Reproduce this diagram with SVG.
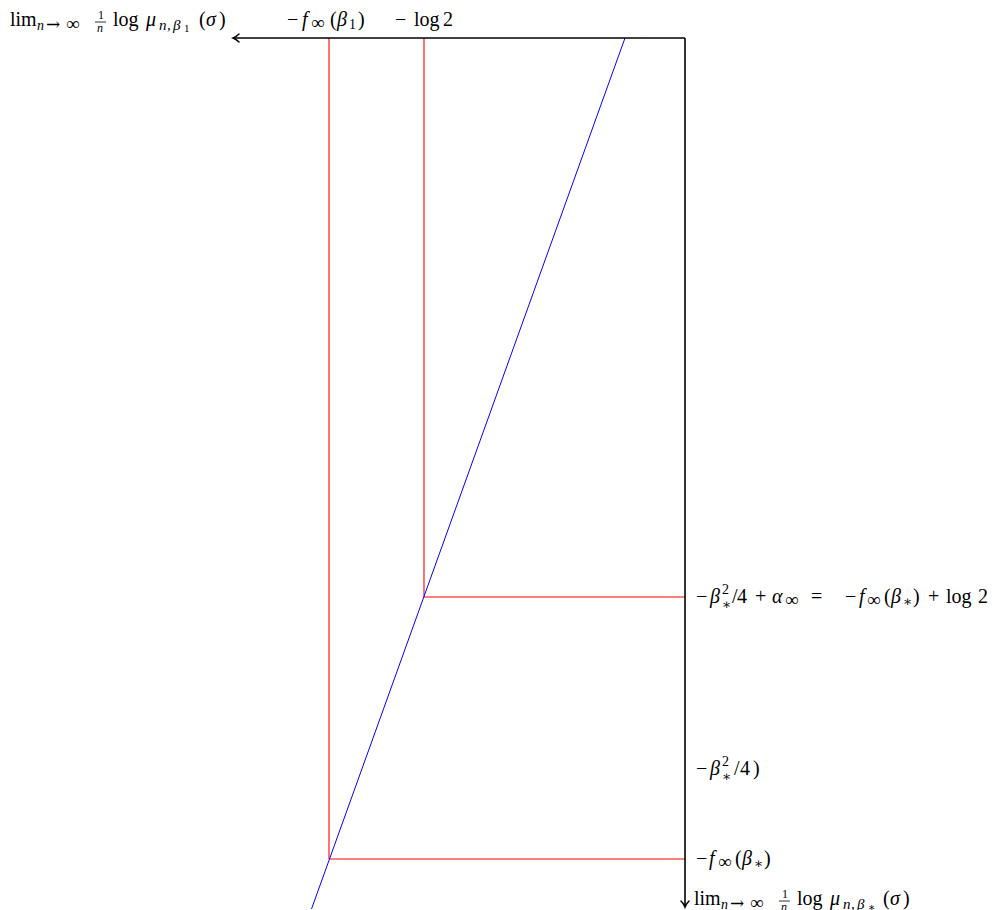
<svg xmlns="http://www.w3.org/2000/svg" width="999" height="910" viewBox="0 0 999 910">
<defs>
<style>
.ax{stroke:#000;stroke-width:1.6;fill:none}
.red{stroke:#f00;stroke-width:1.1;fill:none}
.blue{stroke:#00f;stroke-width:1;fill:none}
.fb{stroke:#000;stroke-width:0.8}
text{font-family:"Liberation Serif","DejaVu Serif",serif;font-size:20px;fill:#000}
.i{font-style:italic}
.s{font-size:14px}
.sb{font-size:15px}
.inf{font-size:19px}
.ar{font-family:"DejaVu Serif","Liberation Serif",serif;font-size:17px}
.ss{font-size:11px}
.f{font-size:12px}
</style>
<marker id="arr" viewBox="0 0 10 10" refX="8" refY="5" markerWidth="10" markerHeight="10" markerUnits="userSpaceOnUse" orient="auto">
<path d="M2,1 Q5,4 8,5 Q5,6 2,9" fill="none" stroke="#000" stroke-width="1.5" stroke-linecap="round"/>
</marker>
</defs>
<rect width="999" height="910" fill="#fff"/>
<g id="connectors">
<line class="red" x1="329" y1="38" x2="329" y2="859"/>
<line class="red" x1="329" y1="859" x2="685" y2="859"/>
<line class="red" x1="424" y1="38" x2="424" y2="597"/>
<line class="red" x1="424" y1="597" x2="685" y2="597"/>
<line class="blue" x1="625" y1="38" x2="311.5" y2="909"/>
<line class="ax" x1="685" y1="38" x2="233" y2="38" marker-end="url(#arr)"/>
<line class="ax" x1="685" y1="38" x2="685" y2="907" marker-end="url(#arr)"/>
</g>
<g id="label-xaxis">
<text y="26"><tspan x="10">lim</tspan><tspan class="s i" x="37" y="30">n</tspan><tspan class="ar" x="46" y="30">→</tspan><tspan class="inf" x="66" y="30">∞</tspan><tspan class="f" x="98" y="19">1</tspan><tspan class="f i" x="97" y="32">n</tspan><tspan x="113" y="26">log</tspan><tspan class="i" x="146">μ</tspan><tspan class="sb i" x="159" y="30">n</tspan><tspan class="sb i" x="167">,</tspan><tspan class="sb i" x="173">β</tspan><tspan class="ss" x="184" y="32">1</tspan><tspan x="199" y="26">(</tspan><tspan class="i" x="206">σ</tspan><tspan x="219">)</tspan></text>
<line class="fb" x1="95" y1="22" x2="106" y2="22"/>
</g>
<g id="label-f-beta1">
<text y="26"><tspan x="287">−</tspan><tspan class="i" x="302">f</tspan><tspan class="inf" x="311" y="29">∞</tspan><tspan x="330" y="26">(</tspan><tspan class="i" x="337">β</tspan><tspan class="s" x="349" y="29">1</tspan><tspan x="358" y="26">)</tspan></text>
</g>
<g id="label-log2">
<text y="26"><tspan x="395">−</tspan><tspan x="414">log</tspan><tspan x="443">2</tspan></text>
</g>
<g id="label-eq">
<text y="603"><tspan x="696">−</tspan><tspan class="i" x="710">β</tspan><tspan class="s" x="722" y="594">2</tspan><tspan class="s" x="722" y="609">∗</tspan><tspan x="732" y="603">/</tspan><tspan x="737">4</tspan><tspan x="755">+</tspan><tspan class="i" x="772">α</tspan><tspan class="inf" x="785" y="606">∞</tspan><tspan x="811" y="603">=</tspan><tspan x="845">−</tspan><tspan class="i" x="859">f</tspan><tspan class="inf" x="867" y="606">∞</tspan><tspan x="884" y="603">(</tspan><tspan class="i" x="891">β</tspan><tspan class="s" x="903" y="606">∗</tspan><tspan x="913" y="603">)</tspan><tspan x="928">+</tspan><tspan x="946">log</tspan><tspan x="978">2</tspan></text>
</g>
<g id="label-beta2">
<text y="775"><tspan x="696">−</tspan><tspan class="i" x="710">β</tspan><tspan class="s" x="722" y="766">2</tspan><tspan class="s" x="722" y="781">∗</tspan><tspan x="734" y="775">/</tspan><tspan x="740">4</tspan><tspan x="753">)</tspan></text>
</g>
<g id="label-fstar">
<text y="865"><tspan x="696">−</tspan><tspan class="i" x="709">f</tspan><tspan class="inf" x="718" y="868">∞</tspan><tspan x="735" y="865">(</tspan><tspan class="i" x="742">β</tspan><tspan class="s" x="754" y="868">∗</tspan><tspan x="764" y="865">)</tspan></text>
</g>
<g id="label-yaxis">
<text y="905"><tspan x="694">lim</tspan><tspan class="s i" x="721" y="909">n</tspan><tspan class="ar" x="730" y="909">→</tspan><tspan class="inf" x="750" y="909">∞</tspan><tspan class="f" x="782" y="898">1</tspan><tspan class="f i" x="781" y="911">n</tspan><tspan x="797" y="905">log</tspan><tspan class="i" x="830">μ</tspan><tspan class="sb i" x="843" y="909">n</tspan><tspan class="sb i" x="851">,</tspan><tspan class="sb i" x="857">β</tspan><tspan class="ss" x="868" y="911">∗</tspan><tspan x="883" y="905">(</tspan><tspan class="i" x="890">σ</tspan><tspan x="903">)</tspan></text>
<line class="fb" x1="779" y1="901" x2="790" y2="901"/>
</g>
</svg>
